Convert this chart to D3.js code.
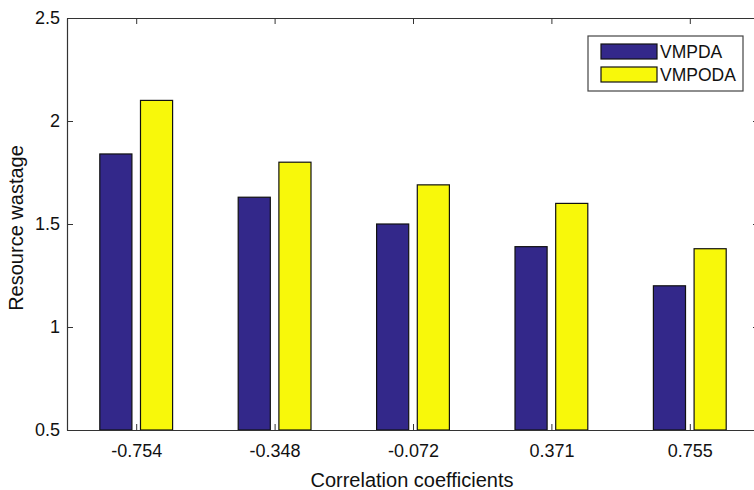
<!DOCTYPE html>
<html>
<head>
<meta charset="utf-8">
<script src="https://cdn.jsdelivr.net/npm/d3@7"></script>
<style>
	body { margin: 0; background: #fff; }
	svg { font-family: "Liberation Sans", Arial, sans-serif; }
</style>
</head>
<body>
<svg id="chart" width="754" height="490"></svg>
<script>
let categories = ["-0.754", "-0.348", "-0.072", "0.371", "0.755"];
let seriesNames = ["VMPDA", "VMPODA"];
let vmpda = [1.84, 1.63, 1.50, 1.39, 1.20];
let vmpoda = [2.10, 1.80, 1.69, 1.60, 1.38];
let yTicks = [0.5, 1, 1.5, 2, 2.5];
let colors = ["#33288a", "#f8f80a"];

let svg = d3.select("#chart");
let margin = {top: 18, right: -5, bottom: 60, left: 67};
let width = 754, height = 490;

let x = d3.scaleLinear()
	.domain([0.5, 5.5])
	.range([margin.left, width - margin.right]);
let y = d3.scaleLinear()
	.domain([0.5, 2.5])
	.range([height - margin.bottom, margin.top]);

let off = 0.147, bw = 0.232;
let data = categories.map((c, i) => ({c, i: i + 1, v: [vmpda[i], vmpoda[i]]}));

// bars
let groups = svg.append("g").selectAll("g")
	.data(data)
	.join("g");
groups.selectAll("rect")
	.data(d => d.v.map((v, k) => ({pos: d.i + (k === 0 ? -off : off), v, k})))
	.join("rect")
	.attr("x", d => x(d.pos - bw / 2))
	.attr("width", d => x(d.pos + bw / 2) - x(d.pos - bw / 2))
	.attr("y", d => y(d.v))
	.attr("height", d => y(0.5) - y(d.v))
	.attr("fill", d => colors[d.k])
	.attr("stroke", "#111")
	.attr("stroke-width", 1.2);

// axes, matlab style ticks inward
let tickLen = 6;
svg.append("g")
	.attr("transform", `translate(0,${y(0.5)})`)
	.call(d3.axisBottom(x).tickValues([1, 2, 3, 4, 5])
		.tickFormat((d, i) => categories[i]).tickSizeInner(-tickLen).tickSizeOuter(0).tickPadding(14));
svg.append("g")
	.attr("transform", `translate(${margin.left},0)`)
	.call(d3.axisLeft(y).tickValues(yTicks).tickFormat(d3.format("~g"))
		.tickSizeInner(-tickLen).tickSizeOuter(0).tickPadding(7));
svg.append("g")
	.attr("transform", `translate(0,${margin.top})`)
	.call(d3.axisTop(x).tickValues([1, 2, 3, 4, 5]).tickFormat("").tickSizeInner(-tickLen).tickSizeOuter(0));
svg.append("g")
	.attr("transform", `translate(${width - margin.right},0)`)
	.call(d3.axisRight(y).tickValues(yTicks).tickFormat("").tickSizeInner(-tickLen).tickSizeOuter(0));

svg.selectAll(".domain").attr("stroke", "#333").attr("stroke-width", 1.2);
svg.selectAll(".tick line").attr("stroke", "#333");
svg.selectAll(".tick text").attr("font-size", 18).attr("fill", "#111")
	.attr("font-family", "Liberation Sans, Arial, sans-serif");

// axis labels
svg.append("text")
	.attr("x", 412)
	.attr("y", 487)
	.attr("text-anchor", "middle")
	.attr("font-size", 20)
	.attr("fill", "#111")
	.text("Correlation coefficients");
svg.append("text")
	.attr("transform", "translate(23,228) rotate(-90)")
	.attr("text-anchor", "middle")
	.attr("font-size", 20)
	.attr("fill", "#111")
	.text("Resource wastage");

// legend
let lg = svg.append("g").attr("transform", "translate(588,36)");
lg.append("rect")
	.attr("width", 155).attr("height", 55)
	.attr("fill", "#fff").attr("stroke", "#444").attr("stroke-width", 1.2);
seriesNames.forEach((n, k) => {
	lg.append("rect")
		.attr("x", 13).attr("y", 8 + k * 23)
		.attr("width", 56).attr("height", 15)
		.attr("fill", colors[k]).attr("stroke", "#111").attr("stroke-width", 1.2);
	lg.append("text")
		.attr("x", 72).attr("y", 22 + k * 23)
		.attr("font-size", 17.5).attr("fill", "#111")
		.text(n);
});
</script>
</body>
</html>
